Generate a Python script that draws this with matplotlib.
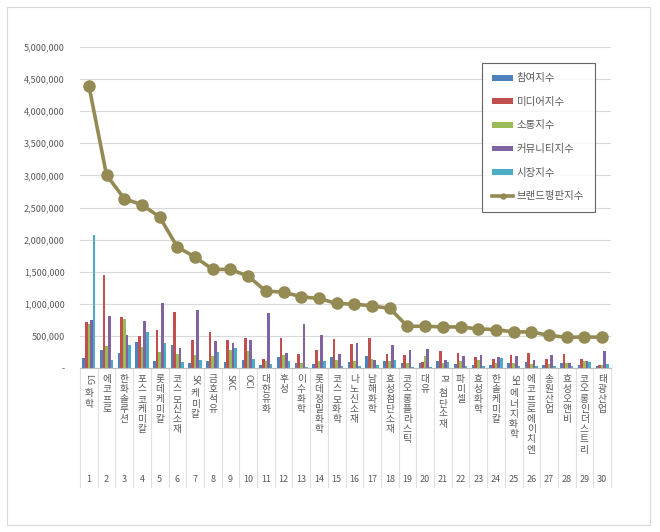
import matplotlib
matplotlib.use('Agg')
import matplotlib.pyplot as plt
import numpy as np
from matplotlib.patches import Rectangle
from matplotlib.ticker import FuncFormatter

plt.rcParams['font.family'] = ['Noto Sans CJK KR', 'DejaVu Sans']

names = ['LG화학', '에코프로', '한화솔루션', '포스코케미칼', '롯데케미칼', '코스모신소재',
         'SK케미칼', '금호석유', 'SKC', 'OCI', '대한유화', '후성', '이수화학',
         '롯데정밀화학', '코스모화학', '나노신소재', '남해화학', '효성첨단소재',
         '코오롱플라스틱', '대유', 'PI첨단소재', '파미셀', '효성화학', '한솔케미칼',
         'SH에너지화학', '에코프로에이치엔', '송원산업', '효성오앤비', '코오롱인더스트리',
         '태광산업']

participation = [161000, 287000, 234000, 406000, 115000, 354000, 73000, 115000, 89000, 120000,
                 47000, 167000, 83000, 57000, 177000, 94000, 182000, 115000, 73000, 83000,
                 104000, 60000, 52000, 52000, 78000, 89000, 52000, 78000, 47000, 26000]
media = [724000, 1443000, 787000, 505000, 599000, 880000, 432000, 568000, 443000, 474000,
         146000, 464000, 224000, 276000, 448000, 375000, 464000, 224000, 198000, 89000,
         266000, 240000, 177000, 146000, 198000, 240000, 135000, 224000, 135000, 52000]
communication = [682000, 339000, 766000, 328000, 255000, 224000, 208000, 182000, 287000, 266000,
                 104000, 198000, 83000, 104000, 130000, 104000, 146000, 115000, 73000, 182000,
                 73000, 115000, 130000, 78000, 78000, 57000, 57000, 78000, 104000, 52000]
community = [740000, 807000, 510000, 729000, 1016000, 307000, 896000, 427000, 391000, 438000,
             854000, 240000, 693000, 521000, 214000, 385000, 130000, 354000, 287000, 297000,
             130000, 180000, 208000, 177000, 187000, 125000, 208000, 78000, 109000, 270000]
market = [2068000, 120000, 354000, 568000, 385000, 89000, 120000, 255000, 318000, 146000,
          57000, 104000, 20000, 115000, 36000, 26000, 42000, 120000, 16000, 10000,
          89000, 36000, 36000, 156000, 26000, 36000, 31000, 26000, 99000, 57000]
brand = [4400000, 3005000, 2639000, 2541000, 2353000, 1884000, 1728000, 1536000, 1536000, 1431000,
         1197000, 1182000, 1109000, 1083000, 1005000, 994000, 969000, 927000, 650000, 650000,
         640000, 640000, 609000, 598000, 562000, 562000, 509000, 478000, 484000, 478000]

series = [('참여지수', participation, '#4F81BD'),
          ('미디어지수', media, '#C0504D'),
          ('소통지수', communication, '#9BBB59'),
          ('커뮤니티지수', community, '#8064A2'),
          ('시장지수', market, '#4BACC6')]

fig = plt.figure(figsize=(6.6, 5.32), dpi=100)
fig.patches.append(Rectangle((7 / 660, 1 - 525 / 532), 643 / 660, 518 / 532,
                             transform=fig.transFigure, fill=False,
                             edgecolor='#d9d9d9', linewidth=0.8))
ax = fig.add_axes([80 / 660, 1 - 368 / 532, 531 / 660, 321 / 532])

x = np.arange(1, len(names) + 1)
bw = 0.15
handles = []
for k, (lab, vals, col) in enumerate(series):
    h = ax.bar(x + (k - 2) * bw, vals, width=bw, color=col, label=lab, zorder=2)
    handles.append(h)
ln, = ax.plot(x, brand, color='#948A54', linewidth=2.6, marker='o', markersize=8,
              label='브랜드평판지수', zorder=3)
handles.append(ln)

ax.set_xlim(0.5, len(names) + 0.5)
ax.set_ylim(0, 5000000)
ax.set_yticks(np.arange(0, 5000001, 500000))
ax.yaxis.set_major_formatter(FuncFormatter(lambda v, p: '-' if v == 0 else f'{int(v):,}'))
ax.tick_params(axis='y', length=0, pad=11, labelsize=6.5, labelcolor='#595959')
ax.set_xticks([])
ax.grid(axis='y', color='#d9d9d9', linewidth=0.8, zorder=0)
ax.set_axisbelow(True)
for s in ['top', 'right', 'left']:
    ax.spines[s].set_visible(False)
ax.spines['bottom'].set_color('#bfbfbf')

# multi-level category axis
tr = ax.get_xaxis_transform()
drop = (487 - 368) / 321
for b in np.arange(0.5, len(names) + 1):
    ax.plot([b, b], [0, -drop], color='#e0e0e0', linewidth=0.8, transform=tr, clip_on=False)

fs = 7
pitch = 7.3
for i, name in enumerate(names, start=1):
    ax.annotate(str(i), xy=(i, 0), xycoords=tr, xytext=(0, -80), textcoords='offset points',
                ha='center', va='center', fontsize=6.5, color='#595959')
    y = -4
    j = 0
    while j < len(name):
        if name[j].isascii():
            run = ''
            while j < len(name) and name[j].isascii():
                run += name[j]
                j += 1
            ax.annotate(run, xy=(i, 0), xycoords=tr, xytext=(0, y), textcoords='offset points',
                        ha='center', va='top', rotation=-90, fontsize=6.5, color='#595959')
            y -= len(run) * 4.6 + 1.5
        else:
            ax.annotate(name[j], xy=(i, 0), xycoords=tr, xytext=(0, y),
                        textcoords='offset points', ha='center', va='top',
                        fontsize=fs, color='#595959')
            y -= pitch
            j += 1

leg = ax.legend(handles=handles, loc='upper left',
                bbox_to_anchor=((482 - 80) / 531, (368 - 63) / 321),
                fontsize=7.5, frameon=True, fancybox=False, labelspacing=1.3,
                handlelength=2.0, handleheight=0.45, handletextpad=0.35,
                borderpad=1.0, borderaxespad=0, markerscale=0.45, labelcolor='#595959')
leg.get_frame().set_edgecolor('#404040')
leg.get_frame().set_linewidth(0.8)

fig.savefig('out.png', dpi=100)
